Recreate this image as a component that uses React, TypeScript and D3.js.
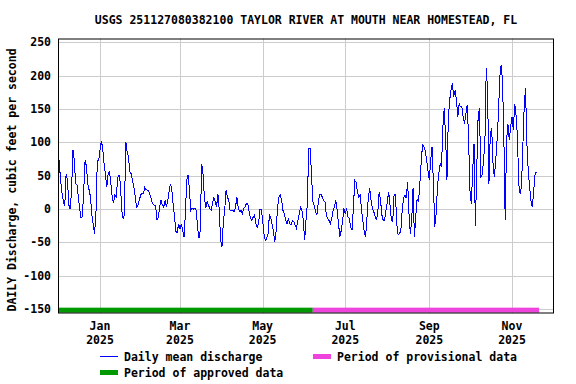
import * as d3 from "d3";

// daily mean discharge, cfs, one value per day starting 2024-12-01
const startDay = "2024-12-01";
const dailyMean = [
  89, 68, 41, 23, 11, 4, 53, 43, 6, 0, 28, 89, 73, 38, 36, 18, 1, -13, -11, 28,
  74, 63, 38, 28, 18, -9, -24, -37, -7, 72, 73, 88, 102, 91, 68, 51, 33, 53, 56, 38,
  18, 9, 21, 18, 46, 51, 40, -2, -14, -9, 101, 86, 78, 56, 53, 43, 33, 18, 3, 6,
  13, 21, 23, 23, 32, 29, 28, 27, 21, 13, 8, 6, 6, -17, -12, 3, 13, 6, 3, 13,
  3, 13, 26, 38, 28, 6, -12, -34, -35, -22, -30, -22, -32, -42, -7, 43, 51, 28, -2, 1,
  0, 1, -2, -27, -44, -32, 68, 53, 18, 1, 11, 6, 1, -2, 8, 18, 11, 3, 23, -2,
  -47, -57, -19, -2, 28, 18, 13, -2, -2, -2, -4, 3, 18, 2, -4, -2, -7, 1, 3, 8,
  9, -4, -14, -17, -12, -9, -22, -27, -22, 0, 0, -17, -37, -47, -44, -37, -9, -12, -24, -34,
  -49, -32, 3, 18, 21, 13, -2, -7, -17, -22, -14, -22, -24, -17, -19, -24, -29, -17, -8, 3,
  -2, -17, -47, -17, 8, 91, 91, 56, 11, 6, -4, -9, 8, 21, 22, 18, 13, 11, -9, -14,
  -17, -22, -14, -2, 3, 13, -2, -22, -42, -32, -17, 1, -7, 1, -12, -14, -27, -32, 3, 43,
  40, 25, 18, 21, -2, -19, -34, -42, -12, 18, 31, 13, 1, -4, -11, -17, -4, 26, 13, -9,
  -17, -17, -2, 11, 26, 6, -17, -19, 22, 22, -22, -39, -37, -32, -2, 16, 21, 16, 41, -7,
  -37, -17, 31, -42, -10, 15, 10, 38, 71, 96, 93, 88, 73, 58, 43, 73, 93, 40, -27, -7,
  33, 53, 68, 63, 123, 151, 108, 43, 133, 163, 178, 188, 168, 178, 163, 138, 158, 153, 153, 138,
  128, 143, 156, 103, 28, 8, 58, 98, -25, 60, 138, 151, 48, 51, 73, 98, 211, 178, 38, 113,
  121, 68, 48, 73, 103, 143, 198, 216, 193, 108, -17, 103, 128, 103, 123, 138, 118, 158, 141, 108,
  38, 23, 33, 93, 153, 181, 98, 58, 33, 13, 3, 26, 51, 56,
];

const approvedPeriod = ["2024-12-01", "2025-06-07"];
const provisionalPeriod = ["2025-06-07", "2025-11-21"];

const yTicks = [250, 200, 150, 100, 50, 0, -50, -100, -150];
const monthTicks = ["2025-01-01", "2025-03-01", "2025-05-01", "2025-07-01", "2025-09-01", "2025-11-01"];

const title = "USGS 251127080382100 TAYLOR RIVER AT MOUTH NEAR HOMESTEAD, FL";
const yLabel = "DAILY Discharge, cubic feet per second";

const W = 576;
const H = 384;
const left = 58;
const right = 554;
const top = 38.5;
const bottom = 313.5;

const parse = d3.utcParse("%Y-%m-%d");
const font = "'DejaVu Sans Mono', monospace";

export default function App() {
  const x = d3.scaleUtc()
    .domain([parse("2024-12-01")!, parse("2025-12-02")!])
    .range([left, right]);
  const y = d3.scaleLinear().domain([-156.5, 255.5]).range([bottom, top]);

  const t0 = parse(startDay)!;
  const series = dailyMean.map((v, i) => ({ date: d3.utcDay.offset(t0, i), v }));

  const line = d3.line<{ date: Date; v: number }>()
    .x(d => x(d.date))
    .y(d => y(d.v));

  const fmtMonth = d3.utcFormat("%b");
  const fmtYear = d3.utcFormat("%Y");
  const barY = y(-150);

  const textStyle = { fontFamily: font, fontWeight: "bold" as const, fontSize: 11.5 };

  return (
    <svg width={W} height={H} style={{ position: "absolute", left: 0, top: 0, background: "#fff" }}>
      <rect width={W} height={H} fill="#fff" />
      <text x={306} y={20} textAnchor="middle" dominantBaseline="central" style={textStyle}>{title}</text>

      {/* grid */}
      {yTicks.map(t => (
        <line key={"gy" + t} x1={left} x2={right} y1={Math.round(y(t)) + 0.5} y2={Math.round(y(t)) + 0.5}
          stroke="#cccccc" strokeWidth={1} />
      ))}
      {monthTicks.map(m => {
        const xx = Math.round(x(parse(m)!)) + 0.5;
        return <line key={"gx" + m} x1={xx} x2={xx} y1={top} y2={bottom} stroke="#cccccc" strokeWidth={1} />;
      })}

      {/* data approval bars */}
      <rect x={x(parse(approvedPeriod[0])!)} y={barY - 1.5} width={x(parse(approvedPeriod[1])!) - x(parse(approvedPeriod[0])!)}
        height={5} fill="#009900" />
      <rect x={x(parse(provisionalPeriod[0])!)} y={barY - 1.5} width={x(parse(provisionalPeriod[1])!) - x(parse(provisionalPeriod[0])!)}
        height={5} fill="#ee44dd" />

      <path d={line(series) ?? ""} fill="none" stroke="#0000ff" strokeWidth={1} shapeRendering="crispEdges" />

      <rect x={left + 0.5} y={top + 0.5} width={right - left - 1} height={bottom - top - 1} fill="none" stroke="#000" strokeWidth={1} />

      {/* y axis labels */}
      {yTicks.map(t => (
        <text key={"ty" + t} x={51} y={y(t)} textAnchor="end" dominantBaseline="central" style={textStyle}>{t}</text>
      ))}
      <text transform={`translate(12, 180) rotate(-90)`} textAnchor="middle" dominantBaseline="central"
        style={textStyle}>{yLabel}</text>

      {/* x axis labels */}
      {monthTicks.map(m => {
        const d = parse(m)!;
        return (
          <g key={"tx" + m} style={textStyle}>
            <text x={x(d)} y={326} textAnchor="middle" dominantBaseline="central">{fmtMonth(d)}</text>
            <text x={x(d)} y={340} textAnchor="middle" dominantBaseline="central">{fmtYear(d)}</text>
          </g>
        );
      })}

      {/* legend */}
      <line x1={100} x2={118} y1={356.5} y2={356.5} stroke="#0000ff" strokeWidth={1} />
      <text x={124} y={356.5} dominantBaseline="central" style={textStyle}>Daily mean discharge</text>
      <rect x={313} y={354} width={18} height={5} fill="#ee44dd" />
      <text x={337} y={356.5} dominantBaseline="central" style={textStyle}>Period of provisional data</text>
      <rect x={100} y={370} width={18} height={5} fill="#009900" />
      <text x={124} y={372.5} dominantBaseline="central" style={textStyle}>Period of approved data</text>
    </svg>
  );
}
